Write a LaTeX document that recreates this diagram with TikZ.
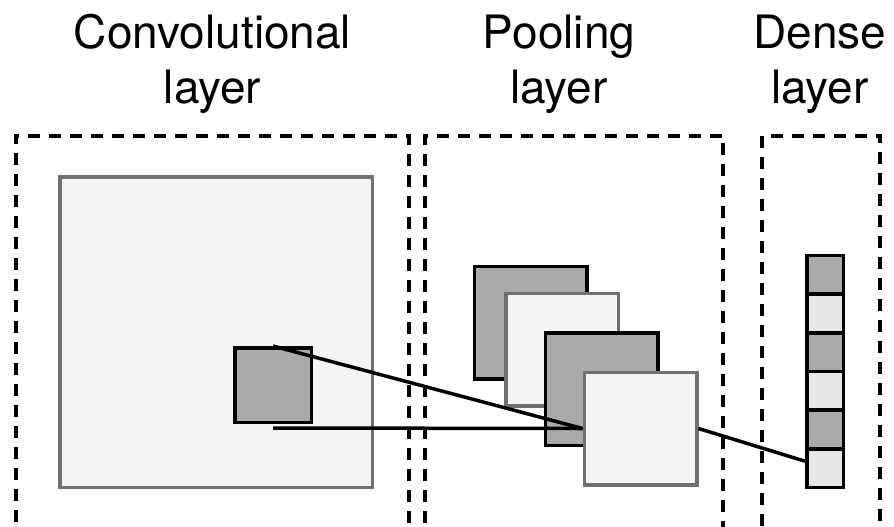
\documentclass[tikz,border=0pt]{standalone}
\usepackage{fontspec}
\setmainfont{TeX Gyre Heros}
\definecolor{darkfill}{HTML}{AAAAAA}
\definecolor{lightfill}{HTML}{F4F4F4}
\definecolor{cellfill}{HTML}{E6E6E6}
\definecolor{graystroke}{HTML}{707070}
\tikzset{
  layerbox/.style={draw=black, line width=3.8pt, dash pattern=on 12pt off 9pt, inner sep=0pt},
  darksq/.style={draw=black, fill=darkfill, line width=3.5pt, inner sep=0pt},
  lightsq/.style={draw=graystroke, fill=lightfill, line width=3.5pt, inner sep=0pt},
  poolsq/.style={minimum width=112.5pt, minimum height=112.5pt},
  darkcell/.style={draw=black, fill=darkfill, line width=3.5pt, inner sep=0pt, minimum width=36.5pt, minimum height=38.6pt},
  lightcell/.style={draw=black, fill=cellfill, line width=3.5pt, inner sep=0pt, minimum width=36.5pt, minimum height=38.6pt},
  conn/.style={draw=black, line width=3.5pt},
  title/.style={font=\fontsize{46}{55}\selectfont, align=center, anchor=base, inner sep=0pt}
}
\begin{document}
\begin{tikzpicture}[x=1pt,y=-1pt]
\path[use as bounding box] (0,0) rectangle (894,527);

% titles (anchor base = last line)
\node[title] (tconv) at (212.5,103) {Convolutional\\layer};
\node[title] (tpool) at (559,103) {Pooling\\layer};
\node[title] (tdense) at (820,103) {Dense\\layer};

% dashed layer frames
\node[layerbox, minimum width=393pt, minimum height=393.3pt] (fconv) at (212.5,332.35) {};
\node[layerbox, minimum width=298.3pt, minimum height=393.3pt] (fpool) at (573.85,332.35) {};
\node[layerbox, minimum width=118.3pt, minimum height=393.3pt] (fdense) at (820.85,332.35) {};

% convolutional layer
\node[lightsq, minimum width=312.5pt, minimum height=310.5pt] (conv) at (216,332) {};
\node[darksq, minimum width=76.5pt, minimum height=74.5pt] (kernel) at (273,385) {};

% pooling layer
\node[darksq, poolsq] (pool1) at (530.5,322.5) {};
\node[lightsq, poolsq] (pool2) at (562,349.5) {};
\node[darksq, poolsq] (pool3) at (601.5,389) {};
\node[lightsq, poolsq] (pool4) at (640.5,428.5) {};

% dense layer
\node[darkcell] (d1) at (825,274.8) {};
\node[lightcell] (d2) at (825,313.5) {};
\node[darkcell] (d3) at (825,352.2) {};
\node[lightcell] (d4) at (825,390.8) {};
\node[darkcell] (d5) at (825,429.5) {};
\node[lightcell] (d6) at (825,468.2) {};

% connectors
\draw[conn] (kernel.north) -- (pool4.west);
\draw[conn] ([yshift=-4pt]kernel.south) -- (pool4.west);
\draw[conn] (pool4.east) -- ([yshift=7pt]d6.west);
\end{tikzpicture}
\end{document}
